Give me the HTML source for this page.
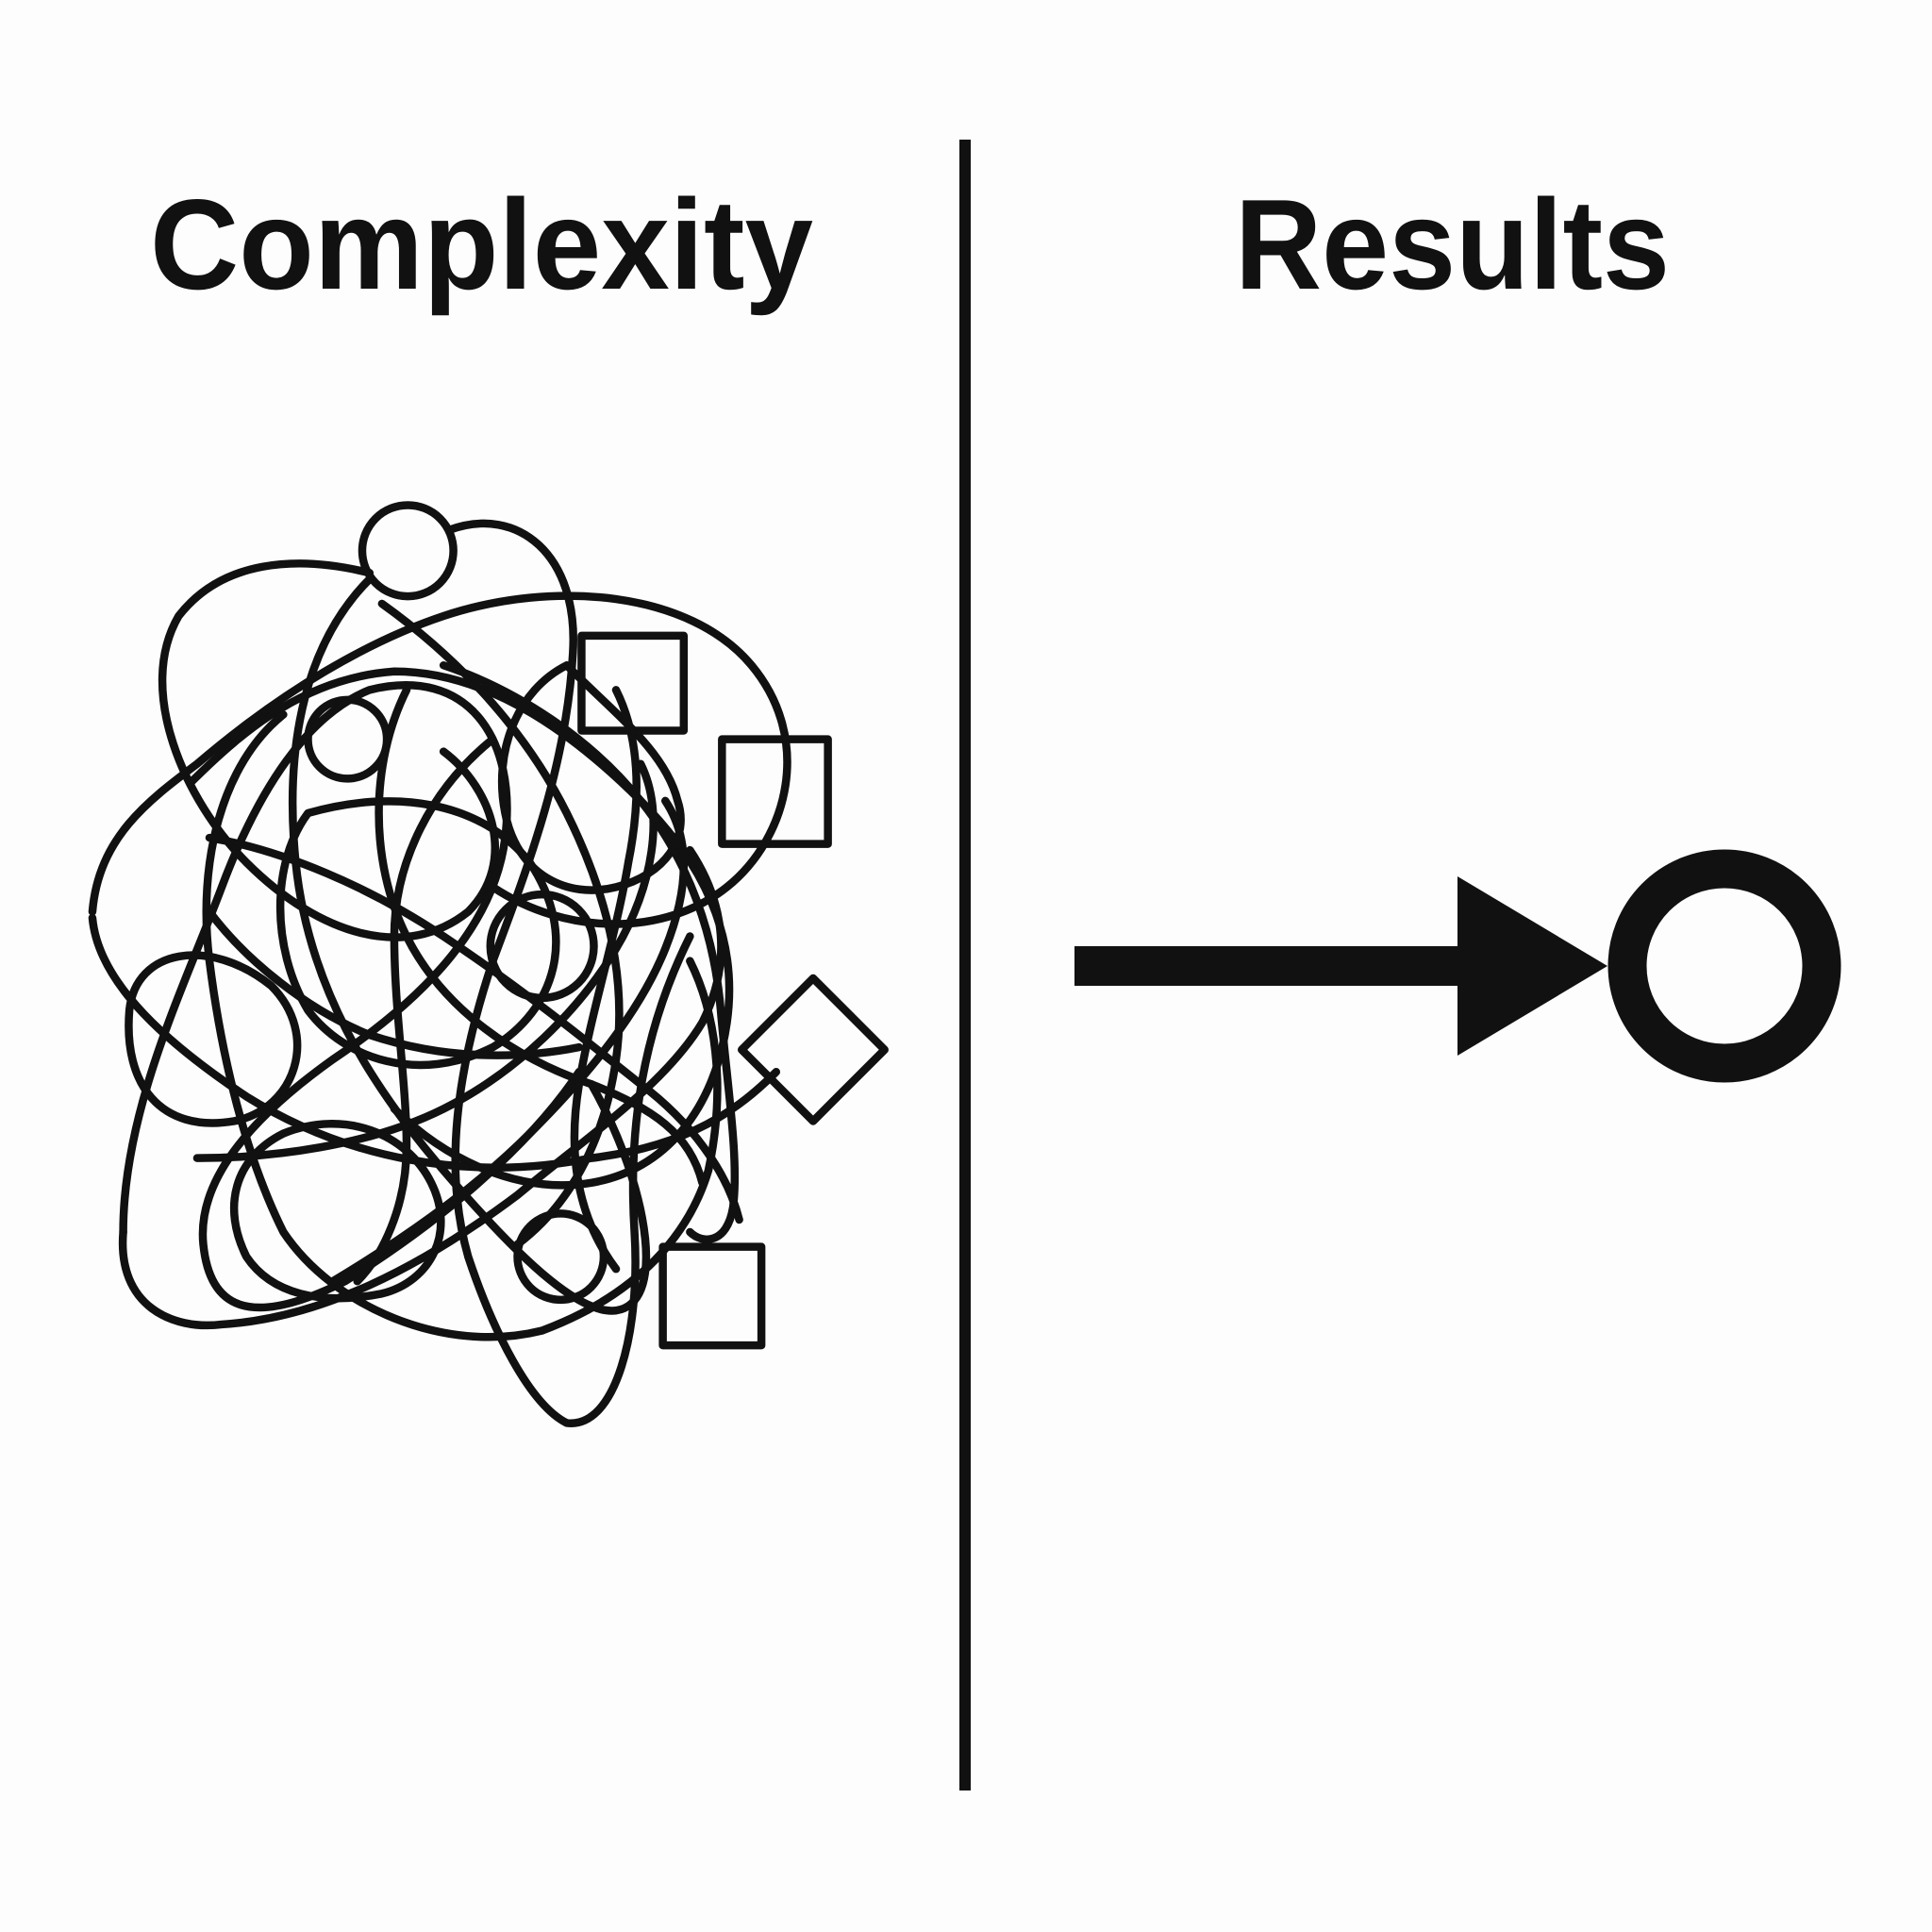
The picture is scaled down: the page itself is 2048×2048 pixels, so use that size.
<!DOCTYPE html>
<html><head><meta charset="utf-8"><style>
html,body{margin:0;padding:0;background:#fff;width:2048px;height:2048px;overflow:hidden}
svg{display:block}
</style></head><body>
<svg width="2048" height="2048" viewBox="0 0 2048 2048" xmlns="http://www.w3.org/2000/svg">
<rect width="2048" height="2048" fill="#fdfdfd"/>
<text x="159" y="306" font-family="Liberation Sans, Arial, sans-serif" font-weight="bold" font-size="136" textLength="703" lengthAdjust="spacingAndGlyphs" fill="#111">Complexity</text>
<text x="1309" y="306" font-family="Liberation Sans, Arial, sans-serif" font-weight="bold" font-size="136" textLength="461" lengthAdjust="spacingAndGlyphs" fill="#111">Results</text>
<rect x="1017" y="148" width="12" height="1750" fill="#111"/>
<rect x="1139" y="1003" width="410" height="42" fill="#111"/>
<polygon points="1545,929 1545,1119 1704,1024" fill="#111"/>
<circle cx="1828" cy="1024" r="103" fill="none" stroke="#111" stroke-width="41"/>
<g transform="scale(1.306)" fill="none" stroke="#111" stroke-width="6.5" stroke-linejoin="round" stroke-linecap="round">
<circle cx="331" cy="447" r="37"/>
<circle cx="282" cy="600" r="32"/>
<circle cx="440" cy="768" r="42"/>
<circle cx="455" cy="1020" r="35"/>
<rect x="472" y="516" width="83" height="77"/>
<rect x="586" y="600" width="86" height="85"/>
<polygon points="660,794 718,852 660,910 602,852"/>
<rect x="538" y="1012" width="80" height="80"/>
<path d="M300,465 C240,450 180,455 145,500 C110,560 150,650 200,700 C260,760 330,780 380,740 C420,700 400,640 360,610"/>
<path d="M155,635 C200,590 250,550 320,545 C400,545 470,600 520,650 C570,700 600,760 590,830 C580,900 540,950 480,960 C420,970 360,940 320,900"/>
<path d="M75,740 C80,680 120,650 160,620 C230,560 300,520 360,500 C450,470 560,480 610,540 C660,600 640,680 590,720 C540,760 460,760 400,720"/>
<path d="M300,470 C250,520 230,600 240,700 C250,800 300,880 360,950 C420,1020 480,1080 510,1060 C540,1040 520,950 480,880"/>
<path d="M105,820 C110,770 170,760 220,800 C260,840 240,900 190,910 C130,920 100,880 105,820 Z"/>
<path d="M75,745 C80,800 140,850 200,890 C280,940 380,960 480,940 C560,930 600,900 630,870"/>
<path d="M365,430 C420,410 470,450 465,530 C460,620 430,700 400,780 C370,870 360,950 380,1020 C400,1080 430,1140 460,1155 C500,1160 520,1080 515,1000 C510,920 520,840 560,760"/>
<path d="M100,1000 C100,900 150,800 180,720 C210,640 250,580 300,560 C380,540 420,600 410,680 C400,760 330,820 270,860 C200,910 160,960 165,1010 C170,1060 200,1080 280,1040 C360,990 430,930 470,870"/>
<path d="M100,1000 C95,1060 140,1080 180,1075 C260,1070 340,1030 420,970 C480,920 540,880 570,830 C600,770 580,720 560,690"/>
<path d="M230,580 C180,620 160,700 170,780 C180,860 200,940 230,1000 C270,1060 360,1100 440,1080 C520,1050 560,1000 575,950 C590,880 580,820 560,780"/>
<path d="M310,490 C380,540 430,600 460,660 C490,720 510,790 500,860 C490,930 460,980 420,1010"/>
<path d="M250,660 C320,640 390,650 430,700 C470,760 450,820 400,850 C340,880 280,860 250,820 C220,770 220,700 250,660 Z"/>
<path d="M170,680 C230,690 300,720 360,760 C420,800 470,840 520,880 C560,910 590,950 600,990"/>
<path d="M160,940 C220,940 300,930 360,900 C420,870 470,820 500,770 C530,720 540,660 520,620"/>
<path d="M460,540 C420,560 400,610 410,660 C420,710 460,730 500,720 C540,710 560,680 550,650 C540,610 500,580 460,540 Z"/>
<path d="M200,1020 C180,980 190,940 230,920 C280,900 330,920 350,960 C370,1000 350,1040 310,1050 C260,1060 220,1050 200,1020 Z"/>
<path d="M330,560 C300,620 300,700 330,760 C360,820 420,860 480,880 C530,900 560,920 570,960"/>
<path d="M270,1040 C320,1010 380,970 430,920 C480,870 520,820 540,770 C560,720 560,680 540,650"/>
<path d="M400,600 C350,640 320,700 320,760 C320,820 330,880 330,930 C330,980 310,1020 290,1040"/>
<path d="M170,740 C200,780 250,820 300,840 C360,860 420,860 470,850"/>
<path d="M500,560 C520,600 520,650 510,700 C500,760 480,820 470,880 C460,940 470,990 500,1030"/>
<path d="M360,540 C420,560 480,600 520,650 C560,700 580,760 585,820 C590,880 600,940 595,980 C590,1010 570,1010 560,1000"/>
</g>
</svg>
</body></html>
